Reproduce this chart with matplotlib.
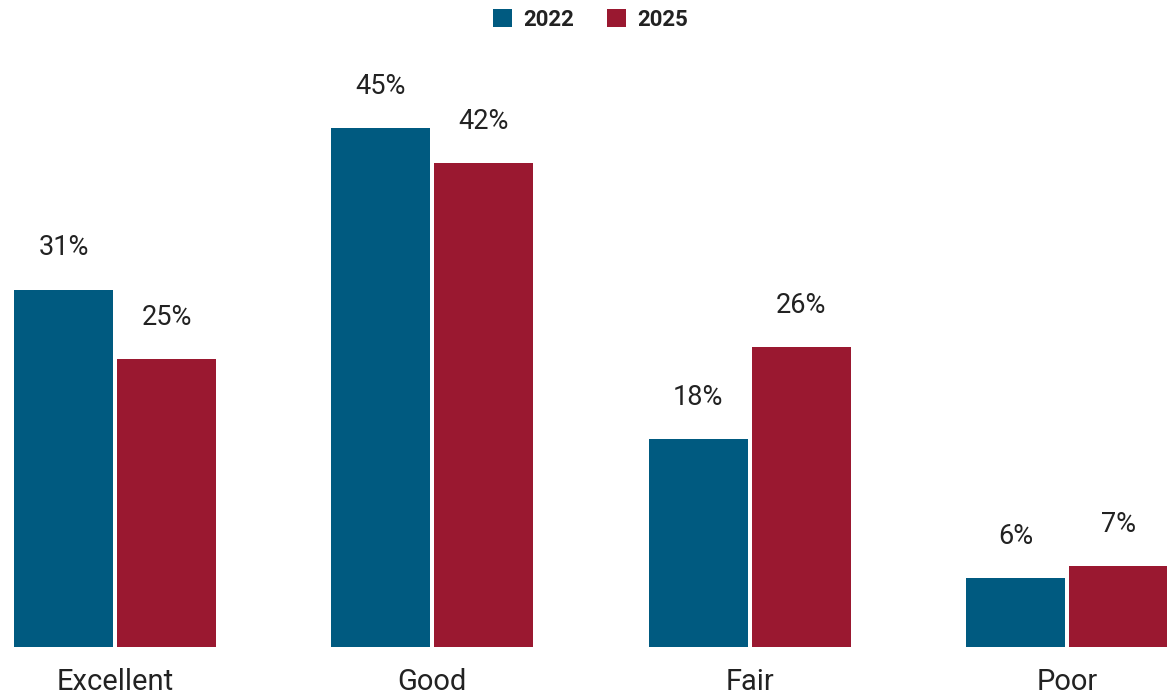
import numpy as np
import matplotlib.pyplot as plt

plt.rcParams['font.family'] = ['Roboto', 'DejaVu Sans']

categories = ['Excellent', 'Good', 'Fair', 'Poor']
years = ['2022', '2025']
values_2022 = [31, 45, 18, 6]
values_2025 = [25, 42, 26, 7]
colors = ['#005A80', '#9A1830']

W, H = 1167, 697
fig = plt.figure(figsize=(W / 100, H / 100), dpi=100)
base_px = 50
ax = fig.add_axes([0, base_px / H, 1, 1 - base_px / H])

x = np.arange(len(categories))
width = 0.312
offset = 0.1625
px_per_unit = 317.3

for i, (vals, col, yr) in enumerate(zip([values_2022, values_2025], colors, years)):
    pos = x + (-offset if i == 0 else offset)
    bars = ax.bar(pos, vals, width=width, color=col, label=yr, edgecolor='none')
    for b, v in zip(bars, vals):
        ax.annotate(f'{v}%', (b.get_x() + b.get_width() / 2, v),
                    xytext=(0, 30), textcoords='offset points',
                    ha='center', va='center', fontsize=19.5, color='#222222')

ax.set_xlim(-115 / px_per_unit, (W - 115) / px_per_unit)
ax.set_ylim(0, (H - base_px) / 11.53)
ax.set_xticks(x)
ax.set_xticklabels(categories, fontsize=21, color='#222222')
ax.tick_params(axis='x', length=0, pad=15)
ax.set_yticks([])
for s in ax.spines.values():
    s.set_visible(False)

leg = fig.legend(loc='upper center', bbox_to_anchor=(0.506, 1.0), ncol=2, frameon=False,
                 handlelength=0.85, handleheight=0.85, handletextpad=0.5, columnspacing=1.5,
                 prop={'size': 16, 'weight': 'bold'}, borderaxespad=0.0)
for t in leg.get_texts():
    t.set_color('#222222')

fig.savefig('out.png', dpi=100)
